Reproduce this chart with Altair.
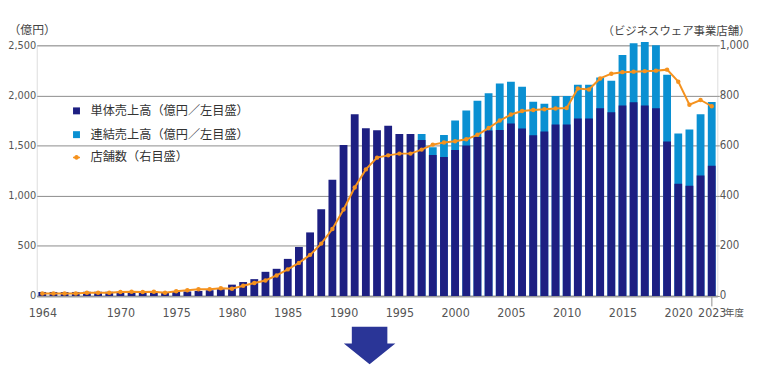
import json
import altair as alt
import pandas as pd

# ---------------- data ----------------
# 61 fiscal periods; index 0 is the first period (1964), index 60 is FY2023
tick_idx = [0, 7, 12, 17, 22, 27, 32, 37, 42, 47, 52, 57, 60]
tick_labels = ["1964", "1970", "1975", "1980", "1985", "1990", "1995",
               "2000", "2005", "2010", "2015", "2020", "2023"]

# 単体売上高 (億円)
standalone = [40, 40, 40, 40, 42, 42, 42, 42, 42, 40, 42, 40, 42, 45, 50, 57, 68,
              113, 139, 168, 241, 271, 370, 489, 634, 866, 1160,
              1505, 1813, 1674, 1654, 1698, 1615, 1615, 1555, 1407, 1387,
              1455, 1500, 1585, 1650, 1655,
              1720, 1671, 1602, 1641, 1711, 1711, 1770, 1770, 1872, 1832,
              1899, 1932, 1899, 1872, 1542, 1119, 1100, 1202, 1298]

# 連結売上高 (億円), from FY1997 (index 34) on
consolidated_start = 34
consolidated = [1615, 1483, 1605, 1750, 1849, 1948, 2021, 2120, 2137, 2087,
                1938, 1918, 1995, 1995, 2107, 2107, 2179, 2146, 2404, 2520,
                2533, 2500, 2206, 1621, 1661, 1813, 1935]

# 店舗数 (ビジネスウェア事業)
stores = [10, 10, 10, 10, 13, 13, 13, 16, 17, 16, 17, 13, 19, 23, 27, 27, 31,
          29, 41, 52, 62, 82, 106, 132, 164, 209, 267,
          345, 433, 505, 552, 561, 568, 568, 584, 604, 612,
          617, 625, 643, 670, 700, 724, 738, 742, 745, 748,
          750, 828, 824, 868, 887, 893, 895, 897, 899, 903,
          855, 763, 782, 757]

S1 = "単体売上高（億円／左目盛）"
S2 = "連結売上高（億円／左目盛）"
S3 = "店舗数（右目盛）"

DARK = "#1d1f82"
LIGHT = "#0a90d2"
ORANGE = "#f5921e"
GRID = "#8c8c8c"
JP = "Noto Sans CJK JP"
NUM = "Liberation Sans Narrow, DejaVu Sans Condensed, Liberation Sans, sans-serif"

n = len(standalone)
idx = list(range(n))

rows = []
for k, v in enumerate(consolidated):
    rows.append({"idx": consolidated_start + k, "series": S2, "value": v})
for i in idx:
    rows.append({"idx": i, "series": S1, "value": standalone[i]})
bars_df = pd.DataFrame(rows)
store_df = pd.DataFrame({"idx": idx, "stores": stores, "series": S3})

# ---------------- scales / axes ----------------
xscale = alt.Scale(domain=[-0.5, n - 0.5], nice=False, zero=False)
label_expr = f"{json.dumps(tick_labels)}[indexof({json.dumps(tick_idx)}, datum.value)]"
xaxis = alt.Axis(values=tick_idx, labelExpr=label_expr, title=None, grid=False,
                 domain=True, domainColor="#9a9a9a", domainWidth=2,
                 ticks=True, tickSize=10,
                 tickColor={"condition": {"test": "datum.value == 60", "value": GRID},
                            "value": "transparent"},
                 labelPadding=1, labelFont=NUM, labelFontSize=12.5,
                 labelColor="#555555", labelFlush=False, labelOverlap=False)

yleft = alt.Axis(values=[0, 500, 1000, 1500, 2000, 2500], format=",.0f",
                 title="（億円）", titleAngle=0, titleX=-29, titleY=-16,
                 titleAlign="left", titleBaseline="middle", titleFont=JP,
                 titleFontSize=12, titleFontWeight="normal", titleColor="#444444",
                 grid=True, gridColor=GRID, gridWidth=1, domain=False, ticks=False,
                 labelPadding=1, labelFont=NUM, labelFontSize=11, labelColor="#555555")

yright = alt.Axis(orient="right", values=[0, 200, 400, 600, 800, 1000], format=",.0f",
                  title="（ビジネスウェア事業店舗）", titleAngle=0, titleX=33, titleY=-14,
                  titleAlign="right", titleBaseline="middle", titleFont=JP,
                  titleFontSize=11.5, titleFontWeight="normal", titleColor="#444444",
                  grid=False, domain=False, ticks=True, tickSize=2, tickColor=GRID,
                  labelPadding=0, labelFont=NUM, labelFontSize=11.5, labelColor="#555555")

yl_scale = alt.Scale(domain=[0, 2500], nice=False)
yr_scale = alt.Scale(domain=[0, 1000], nice=False)

LINE_SYMBOL = "M-1,0L1,0M0,-0.45A0.45,0.45 0 1 1 0,0.45A0.45,0.45 0 1 1 0,-0.45Z"
ARROW = "M-0.69,-0.73L0.69,-0.73L0.69,-0.08L1,-0.08L0,0.73L-1,-0.08L-0.69,-0.08Z"

# ---------------- marks ----------------
bars = alt.Chart(bars_df).transform_calculate(
    xa="datum.idx - 0.35", xb="datum.idx + 0.35"
).mark_bar().encode(
    x=alt.X("xa:Q", scale=xscale, axis=xaxis),
    x2="xb:Q",
    y=alt.Y("value:Q", scale=yl_scale, axis=yleft, stack=None),
    y2=alt.datum(0),
    color=alt.Color("series:N",
                    scale=alt.Scale(domain=[S1, S2], range=[DARK, LIGHT]),
                    legend=alt.Legend(orient="none", legendX=34, legendY=60, title=None,
                                      symbolType="square", symbolSize=49,
                                      symbolStrokeWidth=0, labelFont=JP,
                                      labelFontSize=12.3, labelColor="#333333",
                                      rowPadding=11, labelOffset=8, padding=0)),
)

line = alt.Chart(store_df).mark_line(strokeWidth=2).encode(
    x=alt.X("idx:Q", scale=xscale, axis=xaxis),
    y=alt.Y("stores:Q", scale=yr_scale, axis=yright),
    stroke=alt.Stroke("series:N", scale=alt.Scale(domain=[S3], range=[ORANGE]),
                      legend=alt.Legend(orient="none", legendX=34, legendY=107, title=None,
                                        symbolType=LINE_SYMBOL, symbolSize=49,
                                        symbolStrokeWidth=1.6, symbolFillColor=ORANGE,
                                        labelFont=JP, labelFontSize=12.3,
                                        labelColor="#333333", labelOffset=8, padding=0)),
)

points = alt.Chart(store_df).mark_point(filled=True, size=20, color=ORANGE, opacity=1).encode(
    x=alt.X("idx:Q", scale=xscale, axis=xaxis),
    y=alt.Y("stores:Q", scale=yr_scale, axis=yright),
)

nendo = alt.Chart(pd.DataFrame({"idx": [tick_idx[-1]]})).mark_text(
    text="年度", font=JP, fontSize=9.5, color="#555555", dx=23, baseline="middle"
).encode(
    x=alt.X("idx:Q", scale=xscale, axis=xaxis),
    y=alt.value(270),
)

arrow = alt.Chart(pd.DataFrame({"a": [0]})).mark_point(
    shape=ARROW, size=2704, filled=True, color="#2a3597", opacity=1
).encode(x=alt.value(336), y=alt.value(303))

chart = alt.layer(
    alt.layer(bars, nendo, arrow),
    alt.layer(line, points),
).resolve_scale(y="independent", color="independent").properties(
    width=687, height=253,
    autosize=alt.AutoSizeParams(type="none"),
    padding={"left": 29, "top": 36, "right": 33, "bottom": 70},
).configure_view(stroke=None).configure(background="white")

chart.save("out.html", embed_options={"renderer": "svg", "actions": False})
